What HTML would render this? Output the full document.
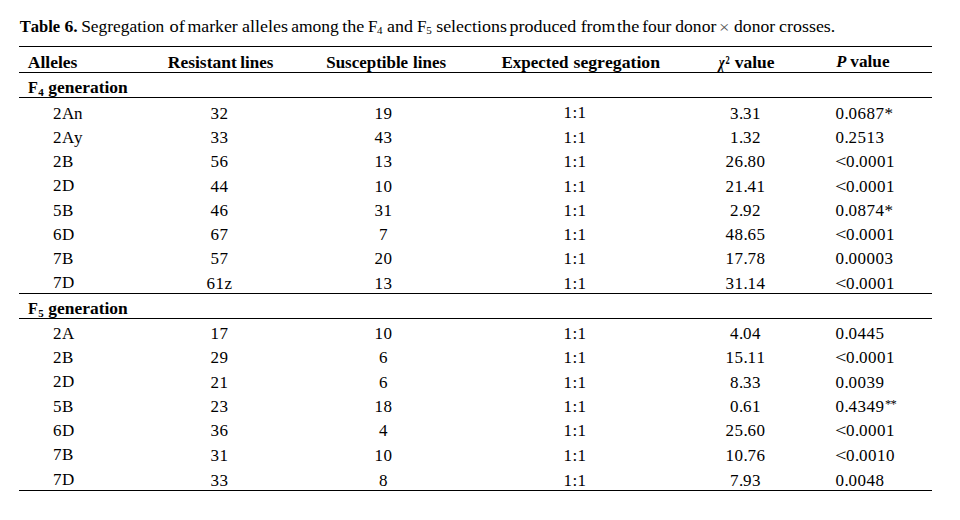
<!DOCTYPE html>
<html><head><meta charset="utf-8"><title>Table 6</title>
<style>
html,body{margin:0;padding:0;background:#fff;}
body{width:960px;height:520px;position:relative;overflow:hidden;font-family:"Liberation Serif",serif;color:#000;font-kerning:none;}
.t{position:absolute;display:block;font-size:17.0px;line-height:21px;white-space:pre;height:21px;transform-origin:0 0;}
.t span{line-height:21px;}
.b{font-weight:bold;}
.i{font-style:italic;}
.r{position:absolute;background:#000;}
</style></head><body>
<span class="t b" style="left:19px;top:16.00px;transform:translateX(0.70px) scaleX(0.9734);">Table</span>
<span class="t b" style="left:64px;top:16.00px;transform:translateX(0.50px) scaleX(1.0400);">6.</span>
<span class="t" style="left:81px;top:16.00px;transform:translateX(0.18px) scaleX(1.0236);">Segregation</span>
<span class="t" style="left:169px;top:16.00px;transform:translateX(0.50px) scaleX(1.0828);">of</span>
<span class="t" style="left:187px;top:16.00px;transform:translateX(0.45px) scaleX(1.0449);">marker</span>
<span class="t" style="left:241px;top:16.00px;transform:translateX(0.95px) scaleX(1.0606);">alleles</span>
<span class="t" style="left:291px;top:16.00px;transform:translateX(0.20px) scaleX(1.0295);">among</span>
<span class="t" style="left:342px;top:16.00px;transform:translateX(0.20px) scaleX(1.0631);">the</span>
<span class="t" style="left:368.00px;top:16.00px;">F</span>
<span class="t" style="left:377.10px;top:19.50px;font-size:11px;">4</span>
<span class="t" style="left:387px;top:16.00px;transform:translateX(0.10px) scaleX(1.0541);">and</span>
<span class="t" style="left:417.00px;top:16.00px;">F</span>
<span class="t" style="left:426.30px;top:19.50px;font-size:11px;">5</span>
<span class="t" style="left:436px;top:16.00px;transform:translateX(0.20px) scaleX(1.0539);">selections</span>
<span class="t" style="left:509px;top:16.00px;transform:translateX(0.45px) scaleX(1.0572);">produced</span>
<span class="t" style="left:580px;top:16.00px;transform:translateX(0.70px) scaleX(1.0450);">from</span>
<span class="t" style="left:616px;top:16.00px;transform:translateX(0.95px) scaleX(1.0755);">the</span>
<span class="t" style="left:642px;top:16.00px;transform:translateX(0.20px) scaleX(1.0258);">four</span>
<span class="t" style="left:675px;top:16.00px;transform:translateX(0.30px) scaleX(1.0325);">donor</span>
<span class="t" style="left:719px;top:16.50px;transform:translateX(0.11px) scaleX(1.0875);color:#555;">×</span>
<span class="t" style="left:734px;top:16.00px;transform:translateX(0.10px) scaleX(1.0313);">donor</span>
<span class="t" style="left:779px;top:16.00px;transform:translateX(0.10px) scaleX(1.0527);">crosses.</span>
<span class="t b" style="left:27px;top:52.00px;transform:translateX(0.70px) scaleX(1.0332);">Alleles</span>
<span class="t b" style="left:167px;top:52.00px;transform:translateX(0.80px) scaleX(1.0283);">Resistant</span>
<span class="t b" style="left:240px;top:52.00px;transform:translateX(0.30px) scaleX(0.9986);">lines</span>
<span class="t b" style="left:326px;top:52.00px;transform:translateX(0.20px) scaleX(0.9972);">Susceptible</span>
<span class="t b" style="left:413px;top:52.00px;transform:translateX(0.10px) scaleX(0.9986);">lines</span>
<span class="t b" style="left:501px;top:52.00px;transform:translateX(0.40px) scaleX(1.0016);">Expected</span>
<span class="t b" style="left:573px;top:52.00px;transform:translateX(0.50px) scaleX(1.0414);">segregation</span>
<span class="t b i" style="left:718px;top:52.00px;transform:translateX(0.77px) scaleX(0.7591);">χ</span>
<span class="t b" style="left:725px;top:49.50px;transform:translateX(0.50px) scaleX(0.7333);font-size:11.5px;">2</span>
<span class="t b" style="left:734px;top:52.00px;transform:translateX(0.70px) scaleX(1.0286);">value</span>
<span class="t b i" style="left:836px;top:51.00px;transform:translateX(0.22px) scaleX(0.9708);">P</span>
<span class="t b" style="left:850px;top:51.00px;transform:translateX(0.30px) scaleX(1.0133);">value</span>
<span class="t b" style="left:28px;top:77.00px;transform:translateX(0.10px) scaleX(0.9500);">F</span>
<span class="t b" style="left:38.25px;top:82.00px;font-size:11px;">4</span>
<span class="t b" style="left:48px;top:77.00px;transform:translateX(0.30px) scaleX(1.0266);">generation</span>
<span class="t b" style="left:28px;top:298.00px;transform:translateX(0.10px) scaleX(0.9500);">F</span>
<span class="t b" style="left:38.25px;top:303.00px;font-size:11px;">5</span>
<span class="t b" style="left:48px;top:298.00px;transform:translateX(0.30px) scaleX(1.0266);">generation</span>
<span class="t" style="left:53.10px;top:103.00px"><span style="letter-spacing:0.500px">2</span><span style="letter-spacing:-0.277px">A</span><span style="letter-spacing:-0.500px">n</span></span>
<span class="t" style="left:210.55px;top:103.00px"><span style="letter-spacing:0.500px">32</span></span>
<span class="t" style="left:374.60px;top:103.00px"><span style="letter-spacing:0.500px">19</span></span>
<span class="t" style="left:563.40px;top:102.00px"><span style="letter-spacing:0.500px">1</span><span style="letter-spacing:0.277px">:</span><span style="letter-spacing:0.500px">1</span></span>
<span class="t" style="left:729.90px;top:103.00px"><span style="letter-spacing:0.500px">3</span><span style="letter-spacing:-0.250px">.</span><span style="letter-spacing:0.500px">31</span></span>
<span class="t" style="left:835.50px;top:103.00px"><span style="letter-spacing:0.500px">0</span><span style="letter-spacing:-0.250px">.</span><span style="letter-spacing:0.500px">0687*</span></span>
<span class="t" style="left:53.10px;top:127.00px"><span style="letter-spacing:0.500px">2</span><span style="letter-spacing:-0.277px">A</span><span style="letter-spacing:-0.500px">y</span></span>
<span class="t" style="left:210.55px;top:127.00px"><span style="letter-spacing:0.500px">33</span></span>
<span class="t" style="left:374.60px;top:127.00px"><span style="letter-spacing:0.500px">43</span></span>
<span class="t" style="left:563.40px;top:127.00px"><span style="letter-spacing:0.500px">1</span><span style="letter-spacing:0.277px">:</span><span style="letter-spacing:0.500px">1</span></span>
<span class="t" style="left:729.90px;top:127.00px"><span style="letter-spacing:0.500px">1</span><span style="letter-spacing:-0.250px">.</span><span style="letter-spacing:0.500px">32</span></span>
<span class="t" style="left:835.50px;top:127.00px"><span style="letter-spacing:0.500px">0</span><span style="letter-spacing:-0.250px">.</span><span style="letter-spacing:0.500px">2513</span></span>
<span class="t" style="left:53.10px;top:151.00px"><span style="letter-spacing:0.500px">2</span><span style="letter-spacing:-0.339px">B</span></span>
<span class="t" style="left:210.55px;top:151.00px"><span style="letter-spacing:0.500px">56</span></span>
<span class="t" style="left:374.60px;top:151.00px"><span style="letter-spacing:0.500px">13</span></span>
<span class="t" style="left:563.40px;top:151.00px"><span style="letter-spacing:0.500px">1</span><span style="letter-spacing:0.277px">:</span><span style="letter-spacing:0.500px">1</span></span>
<span class="t" style="left:725.40px;top:151.00px"><span style="letter-spacing:0.500px">26</span><span style="letter-spacing:-0.250px">.</span><span style="letter-spacing:0.500px">80</span></span>
<span class="t" style="left:835.40px;top:151.00px"><span style="display:inline-block;width:10.5px;transform:scaleX(1.2);transform-origin:0 0">&lt;</span><span style="letter-spacing:0.500px">0</span><span style="letter-spacing:-0.250px">.</span><span style="letter-spacing:0.500px">0001</span></span>
<span class="t" style="left:53.10px;top:175.00px"><span style="letter-spacing:0.500px">2</span><span style="letter-spacing:-0.277px">D</span></span>
<span class="t" style="left:210.55px;top:176.00px"><span style="letter-spacing:0.500px">44</span></span>
<span class="t" style="left:374.60px;top:176.00px"><span style="letter-spacing:0.500px">10</span></span>
<span class="t" style="left:563.40px;top:176.00px"><span style="letter-spacing:0.500px">1</span><span style="letter-spacing:0.277px">:</span><span style="letter-spacing:0.500px">1</span></span>
<span class="t" style="left:725.40px;top:176.00px"><span style="letter-spacing:0.500px">21</span><span style="letter-spacing:-0.250px">.</span><span style="letter-spacing:0.500px">41</span></span>
<span class="t" style="left:835.40px;top:176.00px"><span style="display:inline-block;width:10.5px;transform:scaleX(1.2);transform-origin:0 0">&lt;</span><span style="letter-spacing:0.500px">0</span><span style="letter-spacing:-0.250px">.</span><span style="letter-spacing:0.500px">0001</span></span>
<span class="t" style="left:53.10px;top:200.00px"><span style="letter-spacing:0.500px">5</span><span style="letter-spacing:-0.339px">B</span></span>
<span class="t" style="left:210.55px;top:200.00px"><span style="letter-spacing:0.500px">46</span></span>
<span class="t" style="left:374.60px;top:200.00px"><span style="letter-spacing:0.500px">31</span></span>
<span class="t" style="left:563.40px;top:200.00px"><span style="letter-spacing:0.500px">1</span><span style="letter-spacing:0.277px">:</span><span style="letter-spacing:0.500px">1</span></span>
<span class="t" style="left:729.90px;top:200.00px"><span style="letter-spacing:0.500px">2</span><span style="letter-spacing:-0.250px">.</span><span style="letter-spacing:0.500px">92</span></span>
<span class="t" style="left:835.50px;top:200.00px"><span style="letter-spacing:0.500px">0</span><span style="letter-spacing:-0.250px">.</span><span style="letter-spacing:0.500px">0874*</span></span>
<span class="t" style="left:53.10px;top:224.00px"><span style="letter-spacing:0.500px">6</span><span style="letter-spacing:-0.277px">D</span></span>
<span class="t" style="left:210.55px;top:224.00px"><span style="letter-spacing:0.500px">67</span></span>
<span class="t" style="left:379.10px;top:224.00px"><span style="letter-spacing:0.500px">7</span></span>
<span class="t" style="left:563.40px;top:224.00px"><span style="letter-spacing:0.500px">1</span><span style="letter-spacing:0.277px">:</span><span style="letter-spacing:0.500px">1</span></span>
<span class="t" style="left:725.40px;top:224.00px"><span style="letter-spacing:0.500px">48</span><span style="letter-spacing:-0.250px">.</span><span style="letter-spacing:0.500px">65</span></span>
<span class="t" style="left:835.40px;top:224.00px"><span style="display:inline-block;width:10.5px;transform:scaleX(1.2);transform-origin:0 0">&lt;</span><span style="letter-spacing:0.500px">0</span><span style="letter-spacing:-0.250px">.</span><span style="letter-spacing:0.500px">0001</span></span>
<span class="t" style="left:53.10px;top:248.00px"><span style="letter-spacing:0.500px">7</span><span style="letter-spacing:-0.339px">B</span></span>
<span class="t" style="left:210.55px;top:248.00px"><span style="letter-spacing:0.500px">57</span></span>
<span class="t" style="left:374.60px;top:248.00px"><span style="letter-spacing:0.500px">20</span></span>
<span class="t" style="left:563.40px;top:248.00px"><span style="letter-spacing:0.500px">1</span><span style="letter-spacing:0.277px">:</span><span style="letter-spacing:0.500px">1</span></span>
<span class="t" style="left:725.40px;top:248.00px"><span style="letter-spacing:0.500px">17</span><span style="letter-spacing:-0.250px">.</span><span style="letter-spacing:0.500px">78</span></span>
<span class="t" style="left:835.50px;top:248.00px"><span style="letter-spacing:0.500px">0</span><span style="letter-spacing:-0.250px">.</span><span style="letter-spacing:0.500px">00003</span></span>
<span class="t" style="left:53.10px;top:272.00px"><span style="letter-spacing:0.500px">7</span><span style="letter-spacing:-0.277px">D</span></span>
<span class="t" style="left:206.55px;top:273.00px"><span style="letter-spacing:0.500px">61</span><span style="letter-spacing:0.455px">z</span></span>
<span class="t" style="left:374.60px;top:273.00px"><span style="letter-spacing:0.500px">13</span></span>
<span class="t" style="left:563.40px;top:273.00px"><span style="letter-spacing:0.500px">1</span><span style="letter-spacing:0.277px">:</span><span style="letter-spacing:0.500px">1</span></span>
<span class="t" style="left:725.40px;top:273.00px"><span style="letter-spacing:0.500px">31</span><span style="letter-spacing:-0.250px">.</span><span style="letter-spacing:0.500px">14</span></span>
<span class="t" style="left:835.40px;top:273.00px"><span style="display:inline-block;width:10.5px;transform:scaleX(1.2);transform-origin:0 0">&lt;</span><span style="letter-spacing:0.500px">0</span><span style="letter-spacing:-0.250px">.</span><span style="letter-spacing:0.500px">0001</span></span>
<span class="t" style="left:53.10px;top:323.00px"><span style="letter-spacing:0.500px">2</span><span style="letter-spacing:-0.277px">A</span></span>
<span class="t" style="left:210.55px;top:323.00px"><span style="letter-spacing:0.500px">17</span></span>
<span class="t" style="left:374.60px;top:323.00px"><span style="letter-spacing:0.500px">10</span></span>
<span class="t" style="left:563.40px;top:323.00px"><span style="letter-spacing:0.500px">1</span><span style="letter-spacing:0.277px">:</span><span style="letter-spacing:0.500px">1</span></span>
<span class="t" style="left:729.90px;top:323.00px"><span style="letter-spacing:0.500px">4</span><span style="letter-spacing:-0.250px">.</span><span style="letter-spacing:0.500px">04</span></span>
<span class="t" style="left:835.50px;top:323.00px"><span style="letter-spacing:0.500px">0</span><span style="letter-spacing:-0.250px">.</span><span style="letter-spacing:0.500px">0445</span></span>
<span class="t" style="left:53.10px;top:347.00px"><span style="letter-spacing:0.500px">2</span><span style="letter-spacing:-0.339px">B</span></span>
<span class="t" style="left:210.55px;top:347.00px"><span style="letter-spacing:0.500px">29</span></span>
<span class="t" style="left:379.10px;top:347.00px"><span style="letter-spacing:0.500px">6</span></span>
<span class="t" style="left:563.40px;top:347.00px"><span style="letter-spacing:0.500px">1</span><span style="letter-spacing:0.277px">:</span><span style="letter-spacing:0.500px">1</span></span>
<span class="t" style="left:725.40px;top:347.00px"><span style="letter-spacing:0.500px">15</span><span style="letter-spacing:-0.250px">.</span><span style="letter-spacing:0.500px">11</span></span>
<span class="t" style="left:835.40px;top:347.00px"><span style="display:inline-block;width:10.5px;transform:scaleX(1.2);transform-origin:0 0">&lt;</span><span style="letter-spacing:0.500px">0</span><span style="letter-spacing:-0.250px">.</span><span style="letter-spacing:0.500px">0001</span></span>
<span class="t" style="left:53.10px;top:371.00px"><span style="letter-spacing:0.500px">2</span><span style="letter-spacing:-0.277px">D</span></span>
<span class="t" style="left:210.55px;top:372.00px"><span style="letter-spacing:0.500px">21</span></span>
<span class="t" style="left:379.10px;top:372.00px"><span style="letter-spacing:0.500px">6</span></span>
<span class="t" style="left:563.40px;top:372.00px"><span style="letter-spacing:0.500px">1</span><span style="letter-spacing:0.277px">:</span><span style="letter-spacing:0.500px">1</span></span>
<span class="t" style="left:729.90px;top:372.00px"><span style="letter-spacing:0.500px">8</span><span style="letter-spacing:-0.250px">.</span><span style="letter-spacing:0.500px">33</span></span>
<span class="t" style="left:835.50px;top:372.00px"><span style="letter-spacing:0.500px">0</span><span style="letter-spacing:-0.250px">.</span><span style="letter-spacing:0.500px">0039</span></span>
<span class="t" style="left:53.10px;top:396.00px"><span style="letter-spacing:0.500px">5</span><span style="letter-spacing:-0.339px">B</span></span>
<span class="t" style="left:210.55px;top:396.00px"><span style="letter-spacing:0.500px">23</span></span>
<span class="t" style="left:374.60px;top:396.00px"><span style="letter-spacing:0.500px">18</span></span>
<span class="t" style="left:563.40px;top:396.00px"><span style="letter-spacing:0.500px">1</span><span style="letter-spacing:0.277px">:</span><span style="letter-spacing:0.500px">1</span></span>
<span class="t" style="left:729.90px;top:396.00px"><span style="letter-spacing:0.500px">0</span><span style="letter-spacing:-0.250px">.</span><span style="letter-spacing:0.500px">61</span></span>
<span class="t" style="left:835.50px;top:396.00px"><span style="letter-spacing:0.500px">0</span><span style="letter-spacing:-0.250px">.</span><span style="letter-spacing:0.500px">4349</span></span>
<span class="t" style="left:884.90px;top:393.50px;font-size:12.5px;letter-spacing:-0.6px">**</span>
<span class="t" style="left:53.10px;top:420.00px"><span style="letter-spacing:0.500px">6</span><span style="letter-spacing:-0.277px">D</span></span>
<span class="t" style="left:210.55px;top:420.00px"><span style="letter-spacing:0.500px">36</span></span>
<span class="t" style="left:379.10px;top:420.00px"><span style="letter-spacing:0.500px">4</span></span>
<span class="t" style="left:563.40px;top:420.00px"><span style="letter-spacing:0.500px">1</span><span style="letter-spacing:0.277px">:</span><span style="letter-spacing:0.500px">1</span></span>
<span class="t" style="left:725.40px;top:420.00px"><span style="letter-spacing:0.500px">25</span><span style="letter-spacing:-0.250px">.</span><span style="letter-spacing:0.500px">60</span></span>
<span class="t" style="left:835.40px;top:420.00px"><span style="display:inline-block;width:10.5px;transform:scaleX(1.2);transform-origin:0 0">&lt;</span><span style="letter-spacing:0.500px">0</span><span style="letter-spacing:-0.250px">.</span><span style="letter-spacing:0.500px">0001</span></span>
<span class="t" style="left:53.10px;top:444.00px"><span style="letter-spacing:0.500px">7</span><span style="letter-spacing:-0.339px">B</span></span>
<span class="t" style="left:210.55px;top:445.00px"><span style="letter-spacing:0.500px">31</span></span>
<span class="t" style="left:374.60px;top:445.00px"><span style="letter-spacing:0.500px">10</span></span>
<span class="t" style="left:563.40px;top:445.00px"><span style="letter-spacing:0.500px">1</span><span style="letter-spacing:0.277px">:</span><span style="letter-spacing:0.500px">1</span></span>
<span class="t" style="left:725.40px;top:445.00px"><span style="letter-spacing:0.500px">10</span><span style="letter-spacing:-0.250px">.</span><span style="letter-spacing:0.500px">76</span></span>
<span class="t" style="left:835.40px;top:445.00px"><span style="display:inline-block;width:10.5px;transform:scaleX(1.2);transform-origin:0 0">&lt;</span><span style="letter-spacing:0.500px">0</span><span style="letter-spacing:-0.250px">.</span><span style="letter-spacing:0.500px">0010</span></span>
<span class="t" style="left:53.10px;top:469.00px"><span style="letter-spacing:0.500px">7</span><span style="letter-spacing:-0.277px">D</span></span>
<span class="t" style="left:210.55px;top:470.00px"><span style="letter-spacing:0.500px">33</span></span>
<span class="t" style="left:379.10px;top:470.00px"><span style="letter-spacing:0.500px">8</span></span>
<span class="t" style="left:563.40px;top:470.00px"><span style="letter-spacing:0.500px">1</span><span style="letter-spacing:0.277px">:</span><span style="letter-spacing:0.500px">1</span></span>
<span class="t" style="left:729.90px;top:470.00px"><span style="letter-spacing:0.500px">7</span><span style="letter-spacing:-0.250px">.</span><span style="letter-spacing:0.500px">93</span></span>
<span class="t" style="left:835.50px;top:470.00px"><span style="letter-spacing:0.500px">0</span><span style="letter-spacing:-0.250px">.</span><span style="letter-spacing:0.500px">0048</span></span>
<div class="r" style="left:19px;top:46px;width:913px;height:1px"></div>
<div class="r" style="left:19px;top:72px;width:913px;height:1px"></div>
<div class="r" style="left:19px;top:97px;width:913px;height:1px"></div>
<div class="r" style="left:19px;top:293px;width:913px;height:1px"></div>
<div class="r" style="left:19px;top:318px;width:913px;height:1px"></div>
<div class="r" style="left:19px;top:490px;width:913px;height:1px"></div>
</body></html>
